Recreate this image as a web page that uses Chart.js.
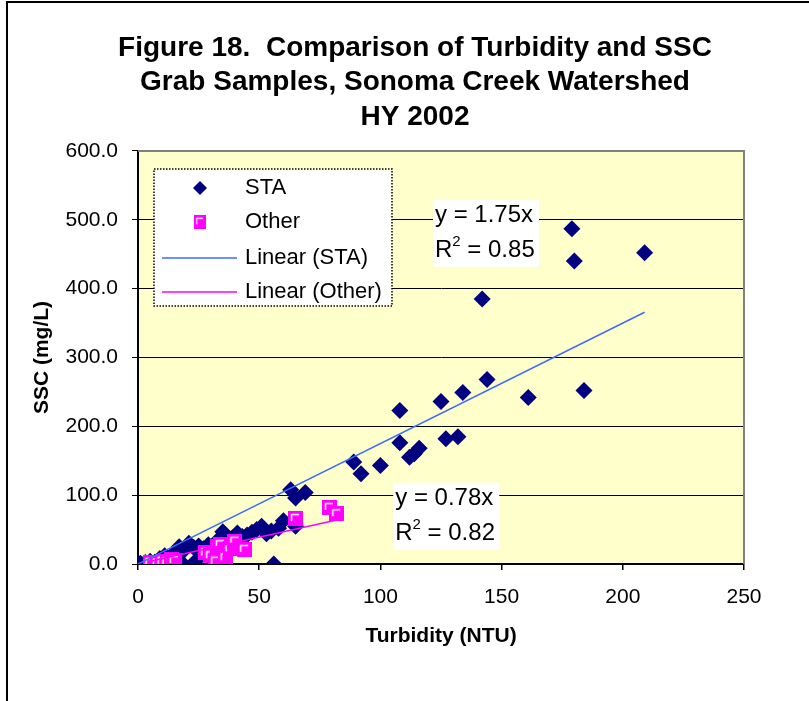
<!DOCTYPE html>
<html>
<head>
<meta charset="utf-8">
<script src="https://cdn.jsdelivr.net/npm/chart.js@4.4.1/dist/chart.umd.min.js"></script>
<style>
  html, body { margin: 0; padding: 0; overflow: hidden; background: #fff; }
  #wrap { width: 830px; height: 701px; }
</style>
</head>
<body>
<div id="wrap"><canvas id="chart" width="830" height="701"></canvas></div>
<script>
// STA grab samples (turbidity NTU, SSC mg/L)
const staTurbidity = [0, 1, 3, 5, 6, 7, 9, 11, 12, 13, 15, 17, 18, 19, 21, 23, 24, 25, 27, 29, 30, 31, 33, 35, 37, 39,
  41, 43, 45, 47, 49, 51, 53, 55, 56, 58, 60, 63, 65, 65, 69, 89, 92, 100, 108, 108, 112, 114, 116, 125, 127, 132,
  134, 142, 144, 161, 179, 180, 184, 209];
const staSSC = [0, 1, 2, 4, 0, 3, 8, 12, 1, 9, 16, 25, 2, 20, 30, 24, 5, 26, 22, 28, 8, 24, 35, 47, 33, 38,
  45, 40, 42, 46, 50, 55, 44, 48, 0, 52, 63, 108, 96, 55, 104, 148, 131, 143, 176, 223, 155, 160, 168, 236, 182, 185,
  249, 385, 268, 242, 487, 440, 252, 452];

// Other grab samples
const otherTurbidity = [5, 8, 10, 12, 14, 15, 28, 30, 32, 33, 34, 36, 38, 40, 44, 65, 79, 82];
const otherSSC = [2, 1, 4, 3, 6, 5, 16, 12, 4, 26, 28, 9, 22, 33, 21, 66, 82, 73];

// trend lines through the origin
const staSlope = 1.75;
const otherSlope = 0.78;
const staFit = ['y = 1.75x', '0.85'];
const otherFit = ['y = 0.78x', '0.82'];

const xTicks = [0, 50, 100, 150, 200, 250];
const yTicks = [0, 100, 200, 300, 400, 500, 600];

Chart.defaults.font.family = '"Liberation Sans", Arial, sans-serif';
Chart.defaults.color = '#000';

const toPoints = (xs, ys) => xs.map((x, i) => ({ x: x, y: ys[i] }));
const fitLine = (xs, slope) => {
  const lo = Math.min(...xs), hi = Math.max(...xs);
  return [{ x: lo, y: lo * slope }, { x: hi, y: hi * slope }];
};

// magenta square marker with the white corner mark
function squareMarker(size) {
  const c = document.createElement('canvas');
  c.width = size; c.height = size;
  const g = c.getContext('2d');
  g.fillStyle = '#FF00FF';
  g.fillRect(0, 0, size, size);
  g.strokeStyle = '#fff';
  g.lineWidth = 1.5;
  g.beginPath();
  g.moveTo(3.5, size - 5);
  g.lineTo(3.5, 3.5);
  g.lineTo(size - 4, 3.5);
  g.stroke();
  return c;
}
const otherMarker = squareMarker(15);

const frame = {
  id: 'frame',
  beforeDraw(chart) {
    const { ctx, chartArea: a } = chart;
    ctx.save();
    ctx.fillStyle = '#fff';
    ctx.fillRect(0, 0, chart.width, chart.height);
    ctx.strokeStyle = '#000';
    ctx.lineWidth = 2;
    ctx.strokeRect(7, 2, chart.width + 50, chart.height + 50);
    ctx.fillStyle = '#FFFFCC';
    ctx.fillRect(a.left, a.top, a.right - a.left, a.bottom - a.top);
    ctx.restore();
  },
  beforeDatasetsDraw(chart) {
    const { ctx, chartArea: a } = chart;
    ctx.save();
    ctx.strokeStyle = '#808080';
    ctx.lineWidth = 2;
    ctx.beginPath();
    ctx.moveTo(a.left, a.top);
    ctx.lineTo(a.right, a.top);
    ctx.lineTo(a.right, a.bottom);
    ctx.stroke();
    ctx.restore();
  }
};

function drawFitLabel(ctx, left, top, lines) {
  ctx.fillStyle = '#fff';
  ctx.fillRect(left, top, 106, 67);
  ctx.fillStyle = '#000';
  ctx.font = '24px "Liberation Sans", Arial';
  ctx.textBaseline = 'middle';
  ctx.textAlign = 'left';
  ctx.fillText(lines[0], left + 2, top + 16);
  ctx.fillText('R', left + 2, top + 51);
  const rw = ctx.measureText('R').width;
  ctx.font = '15px "Liberation Sans", Arial';
  ctx.fillText('2', left + 2 + rw, top + 42);
  const sw = ctx.measureText('2').width;
  ctx.font = '24px "Liberation Sans", Arial';
  ctx.fillText(' = ' + lines[1], left + 2 + rw + sw, top + 51);
}

const extras = {
  id: 'extras',
  afterDraw(chart) {
    const { ctx } = chart;
    const xs = chart.scales.x, ys = chart.scales.y;
    ctx.save();
    drawFitLabel(ctx, xs.getPixelForValue(121.7), ys.getPixelForValue(529), staFit);
    drawFitLabel(ctx, xs.getPixelForValue(105.3), ys.getPixelForValue(118), otherFit);

    // legend box
    const bx = 154, by = 169, bw = 238, bh = 137;
    ctx.fillStyle = '#fff';
    ctx.fillRect(bx, by, bw, bh);
    ctx.strokeStyle = '#000';
    ctx.lineWidth = 1.5;
    ctx.setLineDash([1.5, 1.5]);
    ctx.strokeRect(bx, by, bw, bh);
    ctx.setLineDash([]);

    const rows = [188, 222, 258, 292];
    const names = chart.data.datasets.map(d => d.label);
    ctx.fillStyle = '#000080';
    ctx.beginPath();
    ctx.moveTo(193, rows[0]); ctx.lineTo(200, rows[0] - 7); ctx.lineTo(207, rows[0]); ctx.lineTo(200, rows[0] + 7);
    ctx.closePath(); ctx.fill();
    ctx.drawImage(otherMarker, 200 - 6, rows[1] - 7, 12, 14);
    ctx.lineWidth = 1.5;
    ctx.strokeStyle = '#3D6BFF';
    ctx.beginPath(); ctx.moveTo(162, rows[2]); ctx.lineTo(237, rows[2]); ctx.stroke();
    ctx.strokeStyle = '#FF00FF';
    ctx.beginPath(); ctx.moveTo(162, rows[3]); ctx.lineTo(237, rows[3]); ctx.stroke();

    ctx.fillStyle = '#000';
    ctx.font = '22px "Liberation Sans", Arial';
    ctx.textBaseline = 'middle';
    ctx.textAlign = 'left';
    names.forEach((n, i) => ctx.fillText(n, 245, rows[i]));
    ctx.restore();
  }
};

new Chart(document.getElementById('chart'), {
  type: 'scatter',
  data: {
    datasets: [{
      label: 'STA',
      data: toPoints(staTurbidity, staSSC),
      pointStyle: 'rectRot',
      pointRadius: 8.5,
      pointBackgroundColor: '#000080',
      pointBorderColor: '#000080',
      pointBorderWidth: 0,
      order: 4
    }, {
      label: 'Other',
      data: toPoints(otherTurbidity, otherSSC),
      pointStyle: otherMarker,
      order: 3
    }, {
      label: 'Linear (STA)',
      data: fitLine(staTurbidity, staSlope),
      showLine: true,
      borderColor: '#3D6BFF',
      borderWidth: 1.5,
      pointRadius: 0,
      order: 2
    }, {
      label: 'Linear (Other)',
      data: fitLine(otherTurbidity, otherSlope),
      showLine: true,
      borderColor: '#FF00FF',
      borderWidth: 1.5,
      pointRadius: 0,
      order: 1
    }]
  },
  options: {
    responsive: false,
    animation: false,
    devicePixelRatio: 1,
    layout: { padding: { bottom: 52.4 } },
    plugins: {
      legend: { display: false },
      tooltip: { enabled: false },
      title: {
        display: true,
        text: ['Figure 18.  Comparison of Turbidity and SSC', 'Grab Samples, Sonoma Creek Watershed', 'HY 2002'],
        color: '#000',
        font: { size: 28, weight: 'bold', lineHeight: 1.232 },
        padding: { top: 30.75, bottom: 16.75 }
      }
    },
    scales: {
      x: {
        type: 'linear',
        min: 0,
        max: 250,
        afterBuildTicks: s => { s.ticks = xTicks.map(v => ({ value: v })); },
        ticks: { color: '#000', font: { size: 21 }, padding: 15 },
        grid: { drawOnChartArea: false, drawTicks: true, tickLength: 6, color: '#000', lineWidth: 1.5 },
        border: { color: '#000', width: 2 },
        title: { display: true, text: 'Turbidity (NTU)', color: '#000', font: { size: 21, weight: 'bold' }, padding: 0 },
        afterFit: s => { s.height = 84.6; }
      },
      y: {
        type: 'linear',
        min: 0,
        max: 600,
        afterBuildTicks: s => { s.ticks = yTicks.map(v => ({ value: v })); },
        ticks: { color: '#000', font: { size: 21 }, padding: 14, callback: v => v.toFixed(1) },
        grid: { color: '#000', lineWidth: 1, tickLength: 6 },
        border: { color: '#000', width: 2 },
        title: { display: true, text: 'SSC (mg/L)', color: '#000', font: { size: 21, weight: 'bold' }, padding: { top: 29.4, bottom: 0 } },
        afterFit: s => { s.width = 138; }
      },
      yR: {
        position: 'right',
        display: true,
        grid: { display: false },
        ticks: { display: false },
        border: { display: false },
        afterFit: s => { s.width = 86; }
      }
    }
  },
  plugins: [frame, extras]
});
</script>
</body>
</html>
